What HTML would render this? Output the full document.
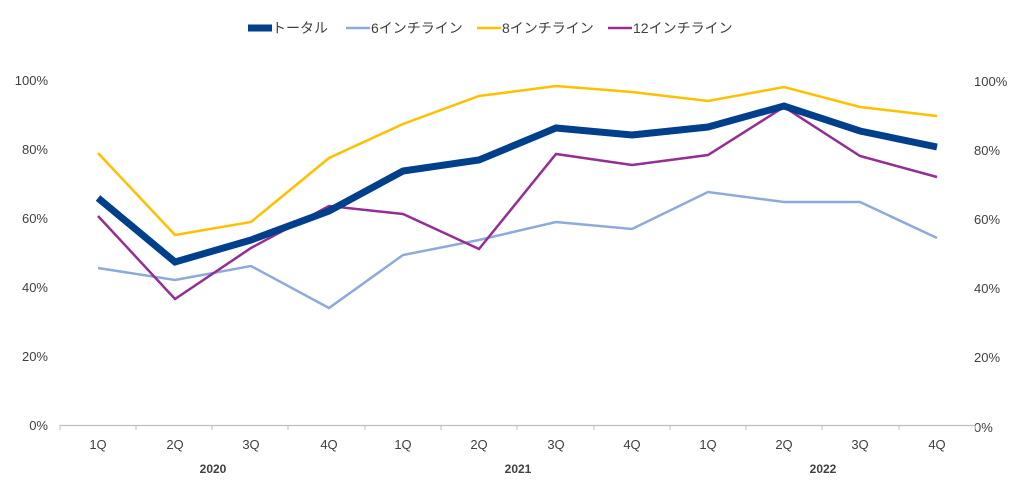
<!DOCTYPE html>
<html><head><meta charset="utf-8"><style>
body{margin:0;background:#fff}
svg{display:block;font-family:"Liberation Sans","Noto Sans CJK JP",sans-serif}
</style></head><body>
<svg width="1016" height="489" viewBox="0 0 1016 489">
<g font-size="13" fill="#404040">
<text x="48" y="85" text-anchor="end">100%</text>
<text x="48" y="154" text-anchor="end">80%</text>
<text x="48" y="223" text-anchor="end">60%</text>
<text x="48" y="292" text-anchor="end">40%</text>
<text x="48" y="361" text-anchor="end">20%</text>
<text x="48" y="430" text-anchor="end">0%</text>
<text x="974" y="86">100%</text>
<text x="974" y="155">80%</text>
<text x="974" y="224">60%</text>
<text x="974" y="293">40%</text>
<text x="974" y="362">20%</text>
<text x="974" y="432">0%</text>
</g>
<line x1="60" y1="425.5" x2="975" y2="425.5" stroke="#bfbfbf" stroke-width="1.2"/>
<g stroke="#bfbfbf" stroke-width="1">
<line x1="60" y1="425" x2="60" y2="430"/><line x1="136" y1="425" x2="136" y2="430"/><line x1="212" y1="425" x2="212" y2="430"/><line x1="288" y1="425" x2="288" y2="430"/><line x1="365" y1="425" x2="365" y2="430"/><line x1="441" y1="425" x2="441" y2="430"/><line x1="517" y1="425" x2="517" y2="430"/><line x1="594" y1="425" x2="594" y2="430"/><line x1="670" y1="425" x2="670" y2="430"/><line x1="746" y1="425" x2="746" y2="430"/><line x1="822" y1="425" x2="822" y2="430"/><line x1="899" y1="425" x2="899" y2="430"/><line x1="975" y1="425" x2="975" y2="430"/>
</g>
<g font-size="13" fill="#404040" text-anchor="middle">
<text x="98" y="449">1Q</text><text x="175" y="449">2Q</text><text x="251" y="449">3Q</text><text x="329" y="449">4Q</text>
<text x="403" y="449">1Q</text><text x="479" y="449">2Q</text><text x="556" y="449">3Q</text><text x="632" y="449">4Q</text>
<text x="708" y="449">1Q</text><text x="784" y="449">2Q</text><text x="860" y="449">3Q</text><text x="937" y="449">4Q</text>
</g>
<g font-size="12" font-weight="bold" fill="#404040" text-anchor="middle">
<text x="213" y="473">2020</text><text x="518" y="473">2021</text><text x="823" y="473">2022</text>
</g>
<g fill="none" stroke-linejoin="miter">
<polyline stroke="#8eaadb" stroke-width="2.5" points="98,268 175,280 251,266 329,308 403,255 479,240 556,222 632,229 708,192 784,202 860,202 937,238"/>
<polyline stroke="#ffc000" stroke-width="2.5" points="98,153 175,235 251,222 329,158 403,124 479,96 556,86 632,92 708,101 784,87 860,107 937,116"/>
<polyline stroke="#942e94" stroke-width="2.5" points="98,216 175,299 251,248 329,206 403,214 479,249 556,154 632,165 708,155 784,107 860,156 937,177"/>
<polyline stroke="#003f8c" stroke-width="7" points="98,198 175,262 251,240 329,211 403,171 479,160 556,128 632,135 708,127 784,106 860,131 937,147"/>
</g>
<g font-size="14" fill="#404040">
<line x1="248" y1="28" x2="272" y2="28" stroke="#003f8c" stroke-width="7"/>
<text x="272" y="33">トータル</text>
<line x1="346" y1="28" x2="370" y2="28" stroke="#8eaadb" stroke-width="2.5"/>
<text x="371" y="33">6インチライン</text>
<line x1="477" y1="28" x2="501" y2="28" stroke="#ffc000" stroke-width="2.5"/>
<text x="502" y="33">8インチライン</text>
<line x1="608" y1="28" x2="632" y2="28" stroke="#942e94" stroke-width="2.5"/>
<text x="633" y="33">12インチライン</text>
</g>
</svg>
</body></html>
